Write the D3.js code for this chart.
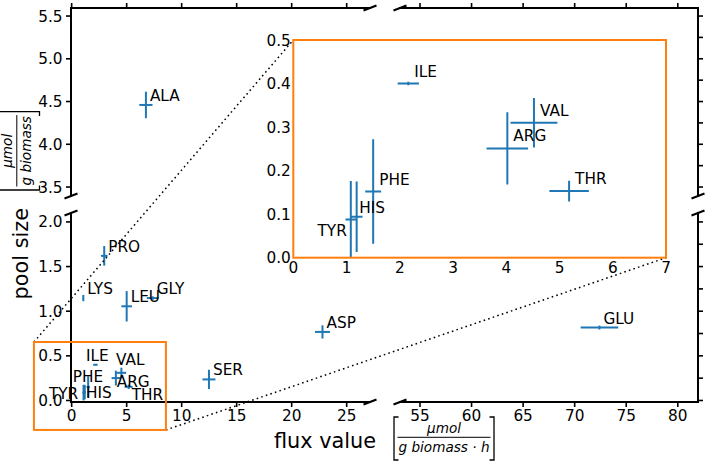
<!DOCTYPE html>
<html><head><meta charset="utf-8">
<script src="https://cdn.jsdelivr.net/npm/d3@7"></script>
<style>body{margin:0;background:#fff} svg{display:block;font-family:"DejaVu Sans",sans-serif}</style>
</head><body>
<svg id="chart" width="708" height="463"></svg>
<script>
// ---- data ----
const aminoAcids = ["ALA","PRO","LYS","LEU","GLY","ASP","GLU","SER","ILE","VAL","ARG","THR","PHE","HIS","TYR"];
const fluxValues = [6.75, 2.96, 1.06, 5.0, 7.36, 22.8, 72.4, 12.48, 2.16, 4.52, 4.02, 5.18, 1.50, 1.19, 1.08];
const fluxErrors = [0.6, 0.3, 0.05, 0.48, 0.53, 0.68, 1.82, 0.59, 0.2, 0.44, 0.39, 0.37, 0.15, 0.11, 0.1];
const poolSizes  = [4.46, 1.62, 1.147, 1.055, 1.147, 0.768, 0.817, 0.236, 0.40, 0.31, 0.251, 0.153, 0.152, 0.094, 0.088];
const poolErrors = [0.155, 0.11, 0.035, 0.17, 0.02, 0.074, 0.022, 0.108, 0.004, 0.057, 0.083, 0.024, 0.12, 0.081, 0.088];

const xTicksLeft = [0, 5, 10, 15, 20, 25];
const xTicksRight = [55, 60, 65, 70, 75, 80];
const yTicksTop = [3.5, 4.0, 4.5, 5.0, 5.5];
const yTicksBottom = [0.0, 0.5, 1.0, 1.5, 2.0];
const yRightTicksTop = [3.5, 3.75, 4.0, 4.25, 4.5, 4.75, 5.0, 5.25, 5.5];
const yRightTicksBottom = [0, 0.25, 0.5, 0.75, 1.0, 1.25, 1.5, 1.75, 2.0];
const insetXTicks = [0, 1, 2, 3, 4, 5, 6, 7];
const insetYTicks = [0.0, 0.1, 0.2, 0.3, 0.4, 0.5];
const zoomedNames = ["ILE","VAL","ARG","THR","PHE","HIS","TYR"];

const xDomainLeft = [-0.06, 27.12], xDomainRight = [53.06, 81.96];
const yDomainTop = [3.395, 5.594], yDomainBottom = [-0.017, 2.10];
const insetXDomain = [0, 7], insetYDomain = [0, 0.5];
const zoomBox = {x0: -3.43, x1: 8.57, y0: -0.33, y1: 0.655};

// ---- layout ----
const P = {x0: 71, x1: 370, x2: 400, x3: 698, y0: 8, y1: 196, y2: 213, y3: 402};
const INS = {x0: 293.3, x1: 666, y0: 40, y1: 257.7};
const BLUE = "#1f77b4", ORANGE = "#ff7f0e";
const FS = 15.3;
// label offsets (px): default main (4,-4); special cases
const mainLabelOffsets = {ILE:[-9.5,-4], VAL:[-5.4,-7.7], PHE:[-15.5,-5.2], ARG:[0.8,8.7], HIS:[1.2,6.2], TYR:[-5.3,6.4,"end"], THR:[3,13]};
const insetLabelOffsets = {HIS:[2.6,-3.4], TYR:[-4,16.7,"end"]};

const svg = d3.select("#chart");
const xL = d3.scaleLinear(xDomainLeft, [P.x0, P.x1]);
const xR = d3.scaleLinear(xDomainRight, [P.x2, P.x3]);
const yT = d3.scaleLinear(yDomainTop, [P.y1, P.y0]);
const yB = d3.scaleLinear(yDomainBottom, [P.y3, P.y2]);

const data = aminoAcids.map((n, i) => ({name: n, x: fluxValues[i], xe: fluxErrors[i], y: poolSizes[i], ye: poolErrors[i]}));

const panels = [
  {id: "tl", x: xL, y: yT}, {id: "tr", x: xR, y: yT},
  {id: "bl", x: xL, y: yB}, {id: "br", x: xR, y: yB}
];
const defs = svg.append("defs");
panels.forEach(p => {
  const [a, b] = p.x.range(), [c, d] = p.y.range();
  defs.append("clipPath").attr("id", "clip-" + p.id).append("rect")
    .attr("x", a).attr("y", d).attr("width", b - a).attr("height", c - d);
  const g = svg.append("g").attr("clip-path", `url(#clip-${p.id})`);
  drawErr(g, data, p.x, p.y);
});

function drawErr(g, arr, xs, ys) {
  const pts = g.selectAll(null).data(arr).enter().append("g");
  pts.append("line").attr("x1", d => xs(d.x - d.xe)).attr("x2", d => xs(d.x + d.xe))
    .attr("y1", d => ys(d.y)).attr("y2", d => ys(d.y))
    .attr("stroke", BLUE).attr("stroke-width", 2);
  pts.append("line").attr("x1", d => xs(d.x)).attr("x2", d => xs(d.x))
    .attr("y1", d => ys(d.y - d.ye)).attr("y2", d => ys(d.y + d.ye))
    .attr("stroke", BLUE).attr("stroke-width", 2);
}

// main labels
data.forEach(d => {
  const xs = d.x > 40 ? xR : xL;
  const ys = d.y > 3 ? yT : yB;
  const off = mainLabelOffsets[d.name] || [4, -4];
  svg.append("text").attr("x", xs(d.x) + off[0]).attr("y", ys(d.y) + off[1])
    .attr("font-size", FS).attr("text-anchor", off[2] || "start").text(d.name);
});

// spines
const spine = svg.append("g").attr("stroke", "#000").attr("stroke-width", 2).attr("fill", "none");
[[P.x0, P.y0, P.x0, P.y1], [P.x0, P.y2, P.x0, P.y3], [P.x3, P.y0, P.x3, P.y1], [P.x3, P.y2, P.x3, P.y3],
 [P.x0, P.y0, P.x1, P.y0], [P.x2, P.y0, P.x3, P.y0], [P.x0, P.y3, P.x1, P.y3], [P.x2, P.y3, P.x3, P.y3]]
 .forEach(s => spine.append("line").attr("x1", s[0]).attr("y1", s[1]).attr("x2", s[2]).attr("y2", s[3]).attr("stroke-linecap", "square"));
// break marks
[[P.x0, P.y1], [P.x0, P.y2], [P.x3, P.y1], [P.x3, P.y2], [P.x1, P.y0], [P.x2, P.y0], [P.x1, P.y3], [P.x2, P.y3]]
 .forEach(m => spine.append("line").attr("x1", m[0] - 6.5).attr("y1", m[1] + 2.5).attr("x2", m[0] + 6.5).attr("y2", m[1] - 2.5));

// ticks
const tk = svg.append("g").attr("stroke", "#000").attr("stroke-width", 1.6);
const tl = svg.append("g").attr("font-size", FS).attr("fill", "#000");
function xTicks(scale, ticks) {
  ticks.forEach(t => {
    const x = scale(t);
    tk.append("line").attr("x1", x).attr("x2", x).attr("y1", P.y3).attr("y2", P.y3 + 5);
    tk.append("line").attr("x1", x).attr("x2", x).attr("y1", P.y0).attr("y2", P.y0 - 5);
    tl.append("text").attr("x", x).attr("y", P.y3 + 19).attr("text-anchor", "middle").text(d3.format("d")(t));
  });
}
xTicks(xL, xTicksLeft); xTicks(xR, xTicksRight);
function yTicks(scale, ticks, rticks) {
  ticks.forEach(t => {
    const y = scale(t);
    tk.append("line").attr("x1", P.x0).attr("x2", P.x0 - 5).attr("y1", y).attr("y2", y);
    tl.append("text").attr("x", P.x0 - 8.5).attr("y", y).attr("dy", "0.36em").attr("text-anchor", "end").text(d3.format(".1f")(t));
  });
  rticks.forEach(t => {
    const y = scale(t);
    tk.append("line").attr("x1", P.x3).attr("x2", P.x3 + 5).attr("y1", y).attr("y2", y);
  });
}
yTicks(yT, yTicksTop, yRightTicksTop); yTicks(yB, yTicksBottom, yRightTicksBottom);

// zoom rectangle + connectors
const rx0 = xL(zoomBox.x0), rx1 = xL(zoomBox.x1), ry0 = yB(zoomBox.y1), ry1 = yB(zoomBox.y0);
const conn = svg.append("g").attr("stroke", "#000").attr("stroke-width", 1.5).attr("stroke-dasharray", "1.6,3.2");
conn.append("line").attr("x1", rx0).attr("y1", ry0).attr("x2", INS.x0).attr("y2", INS.y0);
conn.append("line").attr("x1", rx1).attr("y1", ry1).attr("x2", INS.x1).attr("y2", INS.y1);
svg.append("rect").attr("x", rx0).attr("y", ry0).attr("width", rx1 - rx0).attr("height", ry1 - ry0)
  .attr("fill", "none").attr("stroke", ORANGE).attr("stroke-width", 2);

// inset
const xi = d3.scaleLinear(insetXDomain, [INS.x0, INS.x1]);
const yi = d3.scaleLinear(insetYDomain, [INS.y1, INS.y0]);
svg.append("rect").attr("x", INS.x0).attr("y", INS.y0).attr("width", INS.x1 - INS.x0).attr("height", INS.y1 - INS.y0).attr("fill", "#fff");
defs.append("clipPath").attr("id", "clip-inset").append("rect")
  .attr("x", INS.x0).attr("y", INS.y0).attr("width", INS.x1 - INS.x0).attr("height", INS.y1 - INS.y0);
const zdata = data.filter(d => zoomedNames.includes(d.name));
drawErr(svg.append("g").attr("clip-path", "url(#clip-inset)"), zdata, xi, yi);
zdata.forEach(d => {
  const off = insetLabelOffsets[d.name] || [6, -7];
  svg.append("text").attr("x", xi(d.x) + off[0]).attr("y", yi(d.y) + off[1])
    .attr("font-size", FS).attr("text-anchor", off[2] || "start").text(d.name);
});
svg.append("rect").attr("x", INS.x0).attr("y", INS.y0).attr("width", INS.x1 - INS.x0).attr("height", INS.y1 - INS.y0)
  .attr("fill", "none").attr("stroke", ORANGE).attr("stroke-width", 2);
insetXTicks.forEach(t => svg.append("text").attr("x", xi(t)).attr("y", INS.y1 + 15.5).attr("font-size", FS)
  .attr("text-anchor", "middle").text(d3.format("d")(t)));
insetYTicks.forEach(t => svg.append("text").attr("x", INS.x0 - 2.5).attr("y", yi(t)).attr("dy", "0.36em").attr("font-size", FS)
  .attr("text-anchor", "end").text(d3.format(".1f")(t)));

// axis labels with fractions
function fracLabel(g, main, num, den) {
  const t = g.append("text").attr("font-size", 20.8).attr("x", 0).attr("y", 0).text(main);
  const w1 = t.node().getComputedTextLength();
  const bx = w1 + 18;
  const nt = g.append("text").attr("font-size", 13.6).attr("font-style", "italic").attr("text-anchor", "middle").text(num);
  const dt = g.append("text").attr("font-size", 13.6).attr("font-style", "italic").attr("text-anchor", "middle").text(den);
  const fw = Math.max(nt.node().getComputedTextLength(), dt.node().getComputedTextLength()) + 2;
  const fx0 = bx + 3.5, cx = fx0 + fw / 2;
  nt.attr("x", cx).attr("y", -15.5);
  dt.attr("x", cx).attr("y", 3.5);
  g.append("line").attr("x1", fx0).attr("x2", fx0 + fw).attr("y1", -10.7).attr("y2", -10.7).attr("stroke", "#000").attr("stroke-width", 1);
  const bx2 = fx0 + fw + 3.5;
  g.append("path").attr("d", `M${bx + 4.5},-31H${bx}V12H${bx + 4.5}M${bx2 - 4.5},-31H${bx2}V12H${bx2 - 4.5}`)
    .attr("fill", "none").attr("stroke", "#000").attr("stroke-width", 1.3);
  return bx2 + 1;
}
const xlab = svg.append("g");
const wx = fracLabel(xlab, "flux value", "\u03bcmol", "g biomass \u00b7 h");
xlab.attr("transform", `translate(${(P.x0 + P.x3) / 2 - wx / 2},448)`);
const ylabOuter = svg.append("g").attr("transform", `translate(27.5,${(P.y0 + P.y3) / 2}) rotate(-90)`);
const ylab = ylabOuter.append("g");
const wy = fracLabel(ylab, "pool size", "\u03bcmol", "g biomass");
ylab.attr("transform", `translate(${-wy / 2},0)`);
</script>
</body></html>
